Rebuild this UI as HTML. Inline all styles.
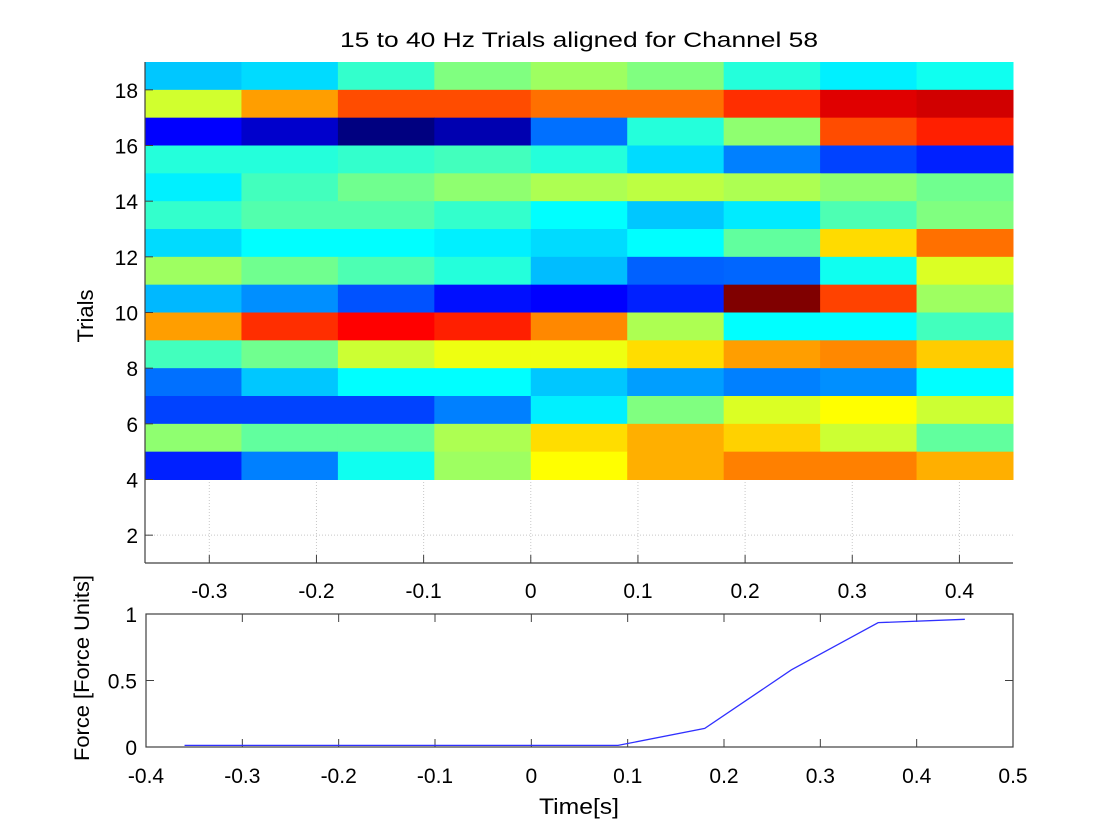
<!DOCTYPE html>
<html><head><meta charset="utf-8"><style>
html,body{margin:0;padding:0;background:#fff;width:1120px;height:840px;overflow:hidden}
svg text{font-family:"Liberation Sans",sans-serif;fill:#000}
</style></head><body>
<svg id="fig" width="1120" height="840" xmlns="http://www.w3.org/2000/svg">
<text x="579" y="47" font-size="21" text-anchor="middle" textLength="478" lengthAdjust="spacingAndGlyphs">15 to 40 Hz Trials aligned for Channel 58</text>
<g id="top"></g>
<g id="bot"></g>
<text transform="translate(93,316) rotate(-90)" font-size="22" text-anchor="middle">Trials</text>
<text transform="translate(89,668) rotate(-90)" font-size="21" text-anchor="middle" textLength="186" lengthAdjust="spacingAndGlyphs">Force [Force Units]</text>
<text x="579" y="814" font-size="22" text-anchor="middle" textLength="80" lengthAdjust="spacingAndGlyphs">Time[s]</text>
</svg>
<script>
const NS="http://www.w3.org/2000/svg";
// heatmap data (rows top->bottom: trials 18..4), values in jet colormap units [0,1]
const trials=[18,17,16,15,14,13,12,11,10,9,8,7,6,5,4];
const timeBins=[-0.36,-0.27,-0.18,-0.09,0,0.09,0.18,0.27,0.36];
const binWidth=0.09;
const heat=[
[0.32,0.34,0.425,0.5,0.53,0.5,0.41,0.36,0.39],
[0.58,0.72,0.80,0.80,0.765,0.765,0.83,0.905,0.92],
[0.125,0.075,0.0,0.048,0.235,0.41,0.515,0.80,0.845],
[0.41,0.41,0.425,0.44,0.41,0.34,0.25,0.19,0.156],
[0.36,0.44,0.485,0.515,0.545,0.56,0.545,0.515,0.485],
[0.425,0.455,0.455,0.425,0.375,0.32,0.355,0.45,0.5],
[0.34,0.375,0.375,0.36,0.34,0.375,0.47,0.66,0.765],
[0.53,0.485,0.45,0.41,0.31,0.22,0.225,0.39,0.59],
[0.305,0.265,0.205,0.14,0.125,0.156,1.0,0.81,0.53],
[0.72,0.83,0.875,0.845,0.742,0.545,0.375,0.375,0.44],
[0.44,0.485,0.575,0.608,0.608,0.658,0.72,0.742,0.675],
[0.235,0.32,0.375,0.375,0.32,0.28,0.25,0.265,0.375],
[0.19,0.19,0.19,0.25,0.36,0.5,0.59,0.625,0.575],
[0.515,0.47,0.47,0.545,0.658,0.703,0.67,0.575,0.47],
[0.156,0.25,0.39,0.53,0.625,0.703,0.75,0.75,0.703]
];
const topXTicks=[-0.3,-0.2,-0.1,0,0.1,0.2,0.3,0.4];
const topXLabels=["-0.3","-0.2","-0.1","0","0.1","0.2","0.3","0.4"];
const topYTicks=[2,4,6,8,10,12,14,16,18];
// force data
const forceT=[-0.36,-0.27,-0.18,-0.09,0,0.09,0.18,0.27,0.36,0.45];
const forceV=[0.012,0.012,0.012,0.012,0.012,0.012,0.14,0.58,0.935,0.96];
const botXTicks=[-0.4,-0.3,-0.2,-0.1,0,0.1,0.2,0.3,0.4,0.5];
const botXLabels=["-0.4","-0.3","-0.2","-0.1","0","0.1","0.2","0.3","0.4","0.5"];
const botYTicks=[0,0.5,1];
const botYLabels=["0","0.5","1"];

function mk(t,a,p){const e=document.createElementNS(NS,t);for(const k in a)e.setAttribute(k,a[k]);(p||document.getElementById('fig')).appendChild(e);return e;}
function jet(v){const c=x=>Math.max(0,Math.min(1,x));const r=c(1.5-Math.abs(4*v-3)),g=c(1.5-Math.abs(4*v-2)),b=c(1.5-Math.abs(4*v-1));return `rgb(${Math.round(r*255)},${Math.round(g*255)},${Math.round(b*255)})`;}

// top axes
const T={l:145,r:1013,t:62,b:563,x0:-0.36,x1:0.45,y0:1,y1:19};
const tx=v=>T.l+(v-T.x0)/(T.x1-T.x0)*(T.r-T.l);
const ty=v=>T.b-(v-T.y0)/(T.y1-T.y0)*(T.b-T.t);
const gt=document.getElementById('top');
topXTicks.forEach(v=>{const l=mk('line',{x1:tx(v),x2:tx(v),y1:T.t,y2:T.b,stroke:'#c8c8c8','stroke-dasharray':'1,2','stroke-width':1},gt);});
topYTicks.forEach(v=>{const l=mk('line',{x1:T.l,x2:T.r,y1:ty(v),y2:ty(v),stroke:'#c8c8c8','stroke-dasharray':'1,2','stroke-width':1},gt);});
heat.forEach((row,i)=>row.forEach((v,j)=>{
  const x=tx(timeBins[j]),x2=tx(timeBins[j]+binWidth),y=ty(trials[i]+1),y2=ty(trials[i]);
  const r=mk('rect',{x:x,y:y,width:x2-x+0.5,height:y2-y+0.5,fill:jet(v)},gt);
  
  
}));
mk('line',{x1:T.l,x2:T.l,y1:T.t,y2:T.b,stroke:'#404040','stroke-width':1.2},gt);
mk('line',{x1:T.l,x2:T.r,y1:T.b,y2:T.b,stroke:'#404040','stroke-width':1.2},gt);
topXTicks.forEach((v,i)=>{mk('line',{x1:tx(v),x2:tx(v),y1:T.b,y2:T.b-8,stroke:'#404040'},gt);
  const t=mk('text',{x:tx(v),y:598,'font-size':21,'text-anchor':'middle'},gt);t.textContent=topXLabels[i];
  });
topYTicks.forEach(v=>{mk('line',{x1:T.l,x2:T.l+8,y1:ty(v),y2:ty(v),stroke:'#404040'},gt);
  const t=mk('text',{x:138,y:ty(v)+8,'font-size':21,'text-anchor':'end'},gt);t.textContent=v;
  });

// bottom axes
const B={l:146,r:1013,t:614,b:747,x0:-0.4,x1:0.5,y0:0,y1:1};
const bx=v=>B.l+(v-B.x0)/(B.x1-B.x0)*(B.r-B.l);
const by=v=>B.b-(v-B.y0)/(B.y1-B.y0)*(B.b-B.t);
const gb=document.getElementById('bot');
mk('rect',{x:B.l,y:B.t,width:B.r-B.l,height:B.b-B.t,fill:'none',stroke:'#404040','stroke-width':1.2},gb);
botXTicks.forEach((v,i)=>{mk('line',{x1:bx(v),x2:bx(v),y1:B.b,y2:B.b-8,stroke:'#404040'},gb);
  mk('line',{x1:bx(v),x2:bx(v),y1:B.t,y2:B.t+8,stroke:'#404040'},gb);
  const t=mk('text',{x:bx(v),y:783,'font-size':21,'text-anchor':'middle'},gb);t.textContent=botXLabels[i];
  });
botYTicks.forEach((v,i)=>{mk('line',{x1:B.l,x2:B.l+8,y1:by(v),y2:by(v),stroke:'#404040'},gb);
  mk('line',{x1:B.r,x2:B.r-8,y1:by(v),y2:by(v),stroke:'#404040'},gb);
  const t=mk('text',{x:137,y:by(v)+8,'font-size':21,'text-anchor':'end'},gb);t.textContent=botYLabels[i];
  });
const pl=mk('polyline',{points:forceT.map((t,i)=>bx(t)+','+by(forceV[i])).join(' '),fill:'none',stroke:'#3030ff','stroke-width':1.3},gb);


</script>
</body></html>
